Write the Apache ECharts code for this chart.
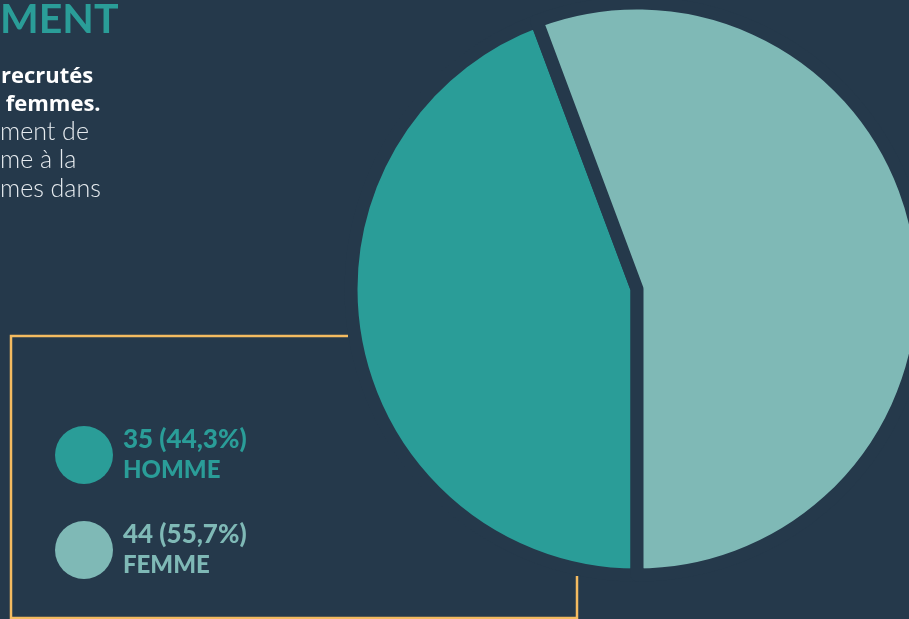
<!DOCTYPE html>
<html>
<head>
<meta charset="utf-8">
<style>
  html, body { margin: 0; padding: 0; background: #25394b; }
  #chart { width: 909px; height: 619px; }
</style>
<script src="https://cdn.jsdelivr.net/npm/echarts@6/dist/echarts.min.js"></script>
</head>
<body>
<div id="chart"></div>
<script>
// données
const genres = ["HOMME", "FEMME"];
const effectifs = [35, 44];
const couleurs = ["#2a9d98", "#7fb9b6"];

const titre = "MENT";
const lignesGras = ["recrutés", " femmes."];
const lignesFines = ["ment de", "me à la", "mes dans"];

const fond = "#25394b";
const or = "#f4bb60";

const total = effectifs.reduce((a, b) => a + b, 0);

const chart = echarts.init(document.getElementById("chart"));

const textes = [
  {
    type: "text",
    x: 0,
    y: -1,
    style: { text: titre, fill: "#2a9d98", font: "bold 41px Lato" },
  },
];
lignesGras.forEach((t, i) => {
  textes.push({
    type: "text",
    x: i === 0 ? 1 : 0,
    y: 66 + i * 28,
    style: { text: t, fill: "#ffffff", font: "bold 22px 'Open Sans'" },
  });
});
lignesFines.forEach((t, i) => {
  textes.push({
    type: "text",
    x: 0,
    y: 119 + i * 28.5,
    style: { text: t, fill: "#e6ebef", font: "300 25px Lato" },
  });
});

const option = {
  backgroundColor: fond,
  animation: false,
  legend: {
    orient: "vertical",
    left: 55,
    top: 426,
    padding: 0,
    itemWidth: 58,
    itemHeight: 58,
    itemGap: 37,
    icon: "circle",
    selectedMode: false,
    itemStyle: { borderWidth: 0 },
    data: genres.map((g, i) => ({ name: g, textStyle: { color: couleurs[i] } })),
    textStyle: {
      padding: [0, 0, 0, 5],
      rich: {
        v: { fontFamily: "Lato", fontWeight: 900, fontSize: 26, lineHeight: 30 },
        n: { fontFamily: "Lato", fontWeight: 900, fontSize: 24, lineHeight: 30 },
      },
    },
    formatter: (name) => {
      const i = genres.indexOf(name);
      const pct = ((effectifs[i] / total) * 100).toFixed(1).replace(".", ",");
      return "{v|" + effectifs[i] + " (" + pct + "%)}\n{n|" + name + "}";
    },
  },
  graphic: [
    ...textes,
    {
      type: "polyline",
      shape: { points: [[348, 336], [11, 336], [11, 618], [577, 618], [577, 576]] },
      style: { stroke: or, lineWidth: 2.5, fill: null },
    },
  ],
  series: [
    {
      type: "pie",
      center: [637, 289],
      radius: 286,
      startAngle: -90,
      clockwise: true,
      silent: true,
      label: { show: false },
      labelLine: { show: false },
      itemStyle: { borderColor: fond, borderWidth: 13 },
      data: genres.map((g, i) => ({
        name: g,
        value: effectifs[i],
        itemStyle: { color: couleurs[i] },
      })),
    },
  ],
};

chart.setOption(option);
</script>
</body>
</html>
